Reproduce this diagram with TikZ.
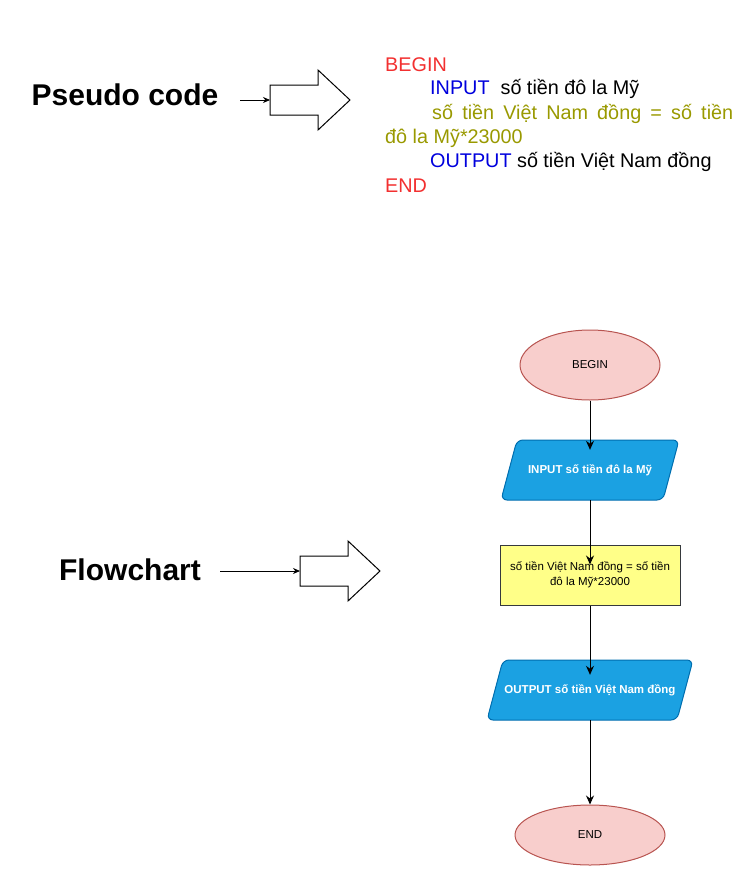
\documentclass[tikz,border=0pt]{standalone}
\usepackage{fontspec}
\setmainfont{Liberation Sans}
\usepackage{tikz}
\usetikzlibrary{shapes.geometric,arrows.meta}
\definecolor{kwred}{HTML}{F23030}
\definecolor{kwblue}{HTML}{0000DD}
\definecolor{kwolive}{HTML}{999900}
\definecolor{termfill}{HTML}{F8CECC}
\definecolor{termdraw}{HTML}{B85450}
\definecolor{iofill}{HTML}{1BA1E2}
\definecolor{iodraw}{HTML}{006EAF}
\definecolor{procfill}{HTML}{FFFF88}
\definecolor{procdraw}{HTML}{36393D}
\tikzset{
  title/.style={font=\fontsize{30}{36}\selectfont\bfseries,inner sep=0pt},
  codeline/.style={font=\fontsize{19.8}{24}\selectfont,anchor=west,inner sep=0pt},
  terminal/.style={draw=termdraw,fill=termfill,ellipse,line width=1pt,font=\fontsize{11.5}{14}\selectfont},
  iobox/.style={draw=iodraw,fill=iofill,rounded corners=6pt,line width=1pt},
  iotext/.style={rectangle,minimum height=60pt,inner sep=1pt,text=white,font=\fontsize{11.5}{14}\selectfont\bfseries},
  procbox/.style={draw=procdraw,fill=procfill,rectangle,minimum width=180pt,minimum height=60pt,
    line width=1pt,align=center,font=\fontsize{11.5}{15}\selectfont},
  flow/.style={-{Stealth[length=9pt,width=8pt]},line width=1pt},
  bigarrow/.style={draw,line width=1pt,fill=white}
}
\newcommand{\tikzBlockArrow}[2]{
  % tail at (#2), pointing right
  \coordinate (#1) at (#2);
  \path[bigarrow] (#2) ++(0,-15) -- ++(48,0) -- ++(0,-15) -- ++(32,30) -- ++(-32,30) -- ++(0,-15) -- ++(-48,0) -- cycle;
}
\newcommand{\tikzIONode}[4]{
  % name, centre, width, text; slant 16
  \path[iobox] (#2) ++({-#3/2+16},-30) -- ++({#3-16},0) -- ++(-16,60) -- ++({-#3+16},0) -- cycle;
  \node[iotext,minimum width=#3pt] (#1) at (#2) {#4};
}

\begin{document}
\begin{tikzpicture}[x=1pt,y=-1pt]
  \useasboundingbox (0,0) rectangle (744,881);

  % pseudo code part
  \node[title] (pc) at (125,95) {Pseudo code};
  \tikzBlockArrow{pctail}{270,100}
  \draw[flow,line width=0.8pt,-{Stealth[length=7pt,width=6pt]}] (240,100) -- (pctail);

  \node[codeline,text=kwred]  (l1) at (385,65) {BEGIN};
  \node[codeline] (l2) at (430,89) {\textcolor{kwblue}{INPUT}\ \ số tiền đô la Mỹ};
  \node[codeline,text=kwolive] (l3) at (432,114) {\makebox[301pt][s]{số tiền Việt Nam đồng = số tiền}};
  \node[codeline,text=kwolive] (l4) at (385,138) {đô la Mỹ*23000};
  \node[codeline] (l5) at (430,162) {\textcolor{kwblue}{OUTPUT} số tiền Việt Nam đồng};
  \node[codeline,text=kwred]  (l6) at (385,186) {END};

  % flowchart part
  \node[title] (fc) at (130,570) {Flowchart};
  \tikzBlockArrow{fctail}{300,571}
  \draw[flow,line width=0.8pt,-{Stealth[length=7pt,width=6pt]}] (220,571) -- (fctail);

  \node[terminal,minimum width=140pt,minimum height=70pt] (begin) at (590,365) {BEGIN};
  \tikzIONode{input}{590,470}{178}{INPUT số tiền đô la Mỹ}
  \node[procbox] (calc) at (590,575) {số tiền Việt Nam đồng = số tiền\\đô la Mỹ*23000};
  \tikzIONode{output}{590,690}{206}{OUTPUT số tiền Việt Nam đồng}
  \node[terminal,minimum width=150pt,minimum height=60pt] (end) at (590,835) {END};

  \draw[flow] (begin) -- ([yshift=-10pt]input.north);
  \draw[flow] (input) -- ([yshift=-20pt]calc.north);
  \draw[flow] (calc) -- ([yshift=-15pt]output.north);
  \draw[flow] (output) -- (end);
\end{tikzpicture}
\end{document}
